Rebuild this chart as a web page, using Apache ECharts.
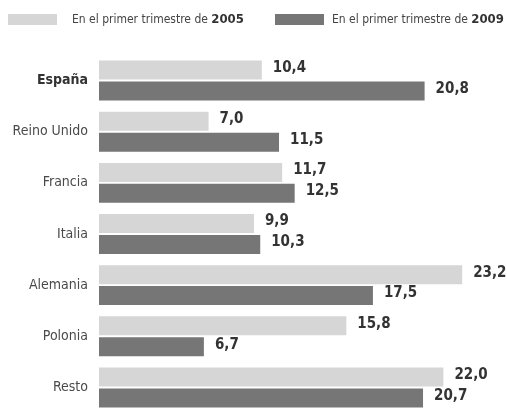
<!DOCTYPE html>
<html>
<head>
<meta charset="utf-8">
<script src="https://cdn.jsdelivr.net/npm/echarts@6/dist/echarts.min.js"></script>
<style>
  html, body { margin: 0; padding: 0; background: #fff; }
  #chart { width: 507px; height: 413px; }
</style>
</head>
<body>
<div id="chart"></div>
<script>
    // datos: % del total, por país
    var paises = ['España', 'Reino Unido', 'Francia', 'Italia', 'Alemania', 'Polonia', 'Resto'];
    var datos2005 = [10.4, 7.0, 11.7, 9.9, 23.2, 15.8, 22.0];
    var datos2009 = [20.8, 11.5, 12.5, 10.3, 17.5, 6.7, 20.7];
    var anios = ['2005', '2009'];

    var fuente = '"DejaVu Sans Condensed", "DejaVu Sans", sans-serif';

    function coma(v){
        return v.toFixed(1).replace('.', ',');
    }

    // una leyenda por año para fijar la posición de cada una
    function leyenda(nombre, izq, sep){
        return {
            left: izq,
            top: 13,
            padding: 0,
            icon: 'rect',
            itemWidth: 49,
            itemHeight: 11,
            data: [nombre],
            formatter: function(name){
                return '{a|En el primer trimestre de }{b|' + name + '}';
            },
            textStyle: {
                rich: {
                    a: { fontFamily: fuente, fontSize: 12, color: '#444', padding: [0, 0, 0, sep] },
                    b: { fontFamily: fuente, fontSize: 13, fontWeight: 'bold', color: '#333' }
                }
            }
        };
    }

    var chart = echarts.init(document.getElementById('chart'));
    var option = {
        animation: false,
        backgroundColor: '#fff',
        legend: [leyenda(anios[0], 8, 10), leyenda(anios[1], 275, 3)],
        grid: {
            left: 99,
            right: 1,
            top: 55,
            bottom: -8
        },
        xAxis: {
            type: 'value',
            min: 0,
            max: 26,
            show: false
        },
        yAxis: {
            type: 'category',
            inverse: true,
            data: paises,
            axisLine: { show: false },
            axisTick: { show: false },
            axisLabel: {
                margin: 11,
                formatter: function(v){
                    return v == 'España' ? '{n|' + v + '}' : '{r|' + v + '}';
                },
                rich: {
                    n: { fontFamily: fuente, fontSize: 14, fontWeight: 'bold', color: '#333' },
                    r: { fontFamily: fuente, fontSize: 14, color: '#4a4a4a' }
                }
            }
        },
        series: [
            {
                name: anios[0],
                type: 'bar',
                barWidth: 19,
                barGap: '10%',
                data: datos2005,
                itemStyle: { color: '#d6d6d6' },
                label: {
                    show: true,
                    position: 'right',
                    distance: 11,
                    offset: [0, -2],
                    formatter: function(p){ return coma(p.value); },
                    fontFamily: fuente,
                    fontSize: 15,
                    fontWeight: 'bold',
                    color: '#333'
                }
            },
            {
                name: anios[1],
                type: 'bar',
                barWidth: 19,
                barGap: '10%',
                data: datos2009,
                itemStyle: { color: '#767676' },
                label: {
                    show: true,
                    position: 'right',
                    distance: 11,
                    offset: [0, -2],
                    formatter: function(p){ return coma(p.value); },
                    fontFamily: fuente,
                    fontSize: 15,
                    fontWeight: 'bold',
                    color: '#333'
                }
            }
        ]
    };
    chart.setOption(option);
</script>
</body>
</html>
